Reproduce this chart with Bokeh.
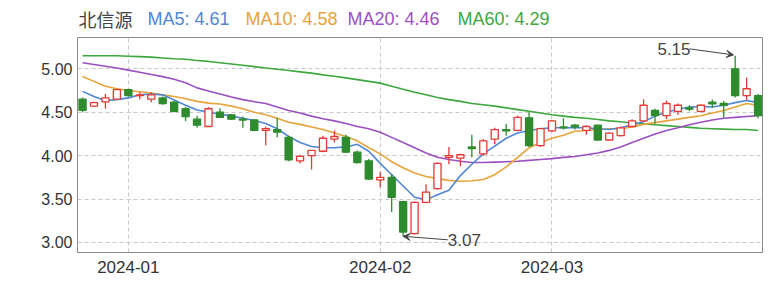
from bokeh.plotting import figure
from bokeh.layouts import column
from bokeh.models import Range1d, FixedTicker, Label, Arrow, VeeHead, ColumnDataSource, NumeralTickFormatter
from bokeh.core.properties import value
from bokeh.embed import file_html
from bokeh.resources import INLINE

stock_name = "北信源"
dates = ["2023-12-26", "2023-12-27", "2023-12-28", "2023-12-29",
         "2024-01-02", "2024-01-03", "2024-01-04", "2024-01-05", "2024-01-08", "2024-01-09",
         "2024-01-10", "2024-01-11", "2024-01-12", "2024-01-15", "2024-01-16", "2024-01-17",
         "2024-01-18", "2024-01-19", "2024-01-22", "2024-01-23", "2024-01-24", "2024-01-25",
         "2024-01-26", "2024-01-29", "2024-01-30", "2024-01-31",
         "2024-02-01", "2024-02-02", "2024-02-05", "2024-02-06", "2024-02-07", "2024-02-08",
         "2024-02-19", "2024-02-20", "2024-02-21", "2024-02-22", "2024-02-23", "2024-02-26",
         "2024-02-27", "2024-02-28", "2024-02-29",
         "2024-03-01", "2024-03-04", "2024-03-05", "2024-03-06", "2024-03-07", "2024-03-08",
         "2024-03-11", "2024-03-12", "2024-03-13", "2024-03-14", "2024-03-15", "2024-03-18",
         "2024-03-19", "2024-03-20", "2024-03-21", "2024-03-22", "2024-03-25", "2024-03-26",
         "2024-03-27"]

opens = [4.65, 4.57, 4.62, 4.65, 4.76, 4.69, 4.65, 4.665, 4.615, 4.54,
         4.42, 4.335, 4.50, 4.47, 4.42, 4.41, 4.29, 4.30, 4.21, 3.94,
         4.00, 4.05, 4.19, 4.21, 4.04, 3.94, 3.72, 3.75, 3.47, 3.10,
         3.46, 3.62, 3.98, 3.97, 4.10, 4.02, 4.19, 4.30, 4.29, 4.435,
         4.115, 4.285, 4.33, 4.35, 4.29, 4.35, 4.18, 4.23, 4.335, 4.40,
         4.52, 4.46, 4.51, 4.55, 4.51, 4.615, 4.60, 5.00, 4.69, 4.69]
highs = [4.67, 4.62, 4.71, 4.77, 4.77, 4.73, 4.73, 4.68, 4.63, 4.56,
         4.46, 4.56, 4.545, 4.48, 4.45, 4.42, 4.335, 4.435, 4.23, 4.01,
         4.06, 4.23, 4.29, 4.24, 4.06, 3.96, 3.815, 3.79, 3.48, 3.47,
         3.67, 3.92, 4.10, 4.02, 4.24, 4.19, 4.32, 4.365, 4.46, 4.50,
         4.32, 4.41, 4.43, 4.365, 4.35, 4.355, 4.27, 4.335, 4.42, 4.65,
         4.54, 4.635, 4.60, 4.58, 4.59, 4.645, 4.63, 5.15, 4.90, 4.71]
lows = [4.50, 4.56, 4.54, 4.645, 4.68, 4.65, 4.615, 4.585, 4.50, 4.40,
        4.32, 4.33, 4.435, 4.41, 4.32, 4.28, 4.12, 4.21, 3.935, 3.91,
        3.84, 4.04, 4.15, 4.03, 3.91, 3.72, 3.635, 3.35, 3.07, 3.09,
        3.45, 3.61, 3.90, 3.88, 3.98, 4.00, 4.13, 4.23, 4.28, 4.10,
        4.10, 4.275, 4.30, 4.30, 4.24, 4.175, 4.17, 4.22, 4.33, 4.39,
        4.37, 4.42, 4.47, 4.51, 4.50, 4.55, 4.44, 4.67, 4.64, 4.43]
closes = [4.52, 4.61, 4.665, 4.76, 4.69, 4.70, 4.70, 4.60, 4.51, 4.45,
          4.35, 4.54, 4.44, 4.42, 4.41, 4.29, 4.31, 4.27, 3.95, 3.99,
          4.06, 4.20, 4.22, 4.04, 3.92, 3.73, 3.75, 3.52, 3.12, 3.46,
          3.58, 3.91, 4.00, 4.01, 4.08, 4.17, 4.30, 4.285, 4.44, 4.115,
          4.31, 4.40, 4.32, 4.33, 4.335, 4.18, 4.26, 4.32, 4.40, 4.58,
          4.46, 4.60, 4.58, 4.535, 4.58, 4.595, 4.58, 4.69, 4.77, 4.46]

ma5 = [4.74, 4.68, 4.635, 4.645, 4.665, 4.70, 4.71, 4.70, 4.64, 4.58,
       4.525, 4.50, 4.48, 4.455, 4.43, 4.405, 4.37, 4.31, 4.22, 4.15,
       4.105, 4.09, 4.09, 4.10, 4.13, 4.05, 3.91, 3.78, 3.65, 3.52,
       3.49, 3.55, 3.60, 3.77, 3.90, 4.02, 4.11, 4.20, 4.26, 4.29,
       4.31, 4.32, 4.32, 4.32, 4.32, 4.31, 4.30, 4.32, 4.355, 4.39,
       4.455, 4.50, 4.535, 4.56, 4.565, 4.56, 4.58, 4.61, 4.635, 4.61]
ma10 = [4.91, 4.855, 4.80, 4.77, 4.75, 4.735, 4.72, 4.70, 4.68, 4.655,
        4.625, 4.605, 4.595, 4.57, 4.54, 4.50, 4.47, 4.43, 4.385, 4.36,
        4.33, 4.30, 4.26, 4.22, 4.17, 4.09, 4.02, 3.93, 3.86, 3.80,
        3.76, 3.735, 3.715, 3.705, 3.71, 3.725, 3.78, 3.87, 3.98, 4.09,
        4.15, 4.20, 4.235, 4.28, 4.29, 4.30, 4.31, 4.31, 4.33, 4.36,
        4.38, 4.40, 4.42, 4.44, 4.46, 4.49, 4.52, 4.56, 4.60, 4.58]
ma20 = [5.07, 5.05, 5.03, 5.01, 4.985, 4.96, 4.935, 4.91, 4.88, 4.84,
        4.78, 4.745, 4.71, 4.675, 4.645, 4.62, 4.60, 4.56, 4.52, 4.49,
        4.455, 4.425, 4.40, 4.37, 4.335, 4.31, 4.27, 4.21, 4.15, 4.09,
        4.03, 3.98, 3.955, 3.935, 3.92, 3.92, 3.925, 3.93, 3.935, 3.945,
        3.955, 3.965, 3.98, 3.99, 4.01, 4.03, 4.06, 4.10, 4.15, 4.20,
        4.25, 4.29, 4.32, 4.355, 4.385, 4.41, 4.43, 4.44, 4.45, 4.46]
ma60 = [5.15, 5.15, 5.15, 5.15, 5.145, 5.14, 5.135, 5.125, 5.115, 5.11,
        5.095, 5.085, 5.07, 5.055, 5.04, 5.025, 5.01, 4.995, 4.98, 4.965,
        4.95, 4.93, 4.915, 4.895, 4.875, 4.855, 4.835, 4.80, 4.765, 4.73,
        4.70, 4.67, 4.645, 4.625, 4.60, 4.585, 4.57, 4.55, 4.53, 4.51,
        4.49, 4.47, 4.455, 4.44, 4.43, 4.415, 4.40, 4.39, 4.375, 4.365,
        4.355, 4.345, 4.335, 4.325, 4.315, 4.31, 4.305, 4.30, 4.30, 4.29]

y_ticks = [3.00, 3.50, 4.00, 4.50, 5.00]
month_labels = ["2024-01", "2024-02", "2024-03"]

UP = "#e53935"
DOWN = "#2e8b2e"
C_MA5 = "#4f86d6"
C_MA10 = "#e8a33a"
C_MA20 = "#9c4fc2"
C_MA60 = "#3da83d"

W = 768
HEAD_H = 36
H = 281 - HEAD_H
BL, BR, BT, BB = 77, 6, 1, 29
PX_PER_X = 11.45
PX_PER_Y = 86.8
X0 = -0.44
X1 = X0 + (W - BL - BR) / PX_PER_X
Y1 = 5.3606
Y0 = Y1 - (H - BT - BB) / PX_PER_Y

n = len(dates)
idx = list(range(n))
up = [c >= o for o, c in zip(opens, closes)]
src = ColumnDataSource(dict(
    x=idx, o=opens, h=highs, l=lows, c=closes,
    top=[max(o, c) for o, c in zip(opens, closes)],
    bot=[min(o, c) for o, c in zip(opens, closes)],
    line=[UP if u else DOWN for u in up],
    fill=["white" if u else DOWN for u in up],
))

# ---- header (name + MA legend); its frame is aligned with the chart frame ----
head = figure(width=W, height=HEAD_H, output_backend="svg", toolbar_location=None,
              x_range=Range1d(BL, W - BR), y_range=Range1d(HEAD_H, 0),
              x_axis_type=None, y_axis_type=None,
              min_border_left=BL, min_border_right=BR, min_border_top=0, min_border_bottom=0)
head.outline_line_color = None
head.background_fill_color = "white"
head.border_fill_color = "white"
head.text(x=[78], y=[18], text=[stock_name], text_baseline="middle",
          text_font=value("Noto Sans CJK SC"), text_font_size="18px", text_color="#444444")
legend_items = [("MA5", ma5, C_MA5, 147), ("MA10", ma10, C_MA10, 245),
                ("MA20", ma20, C_MA20, 347), ("MA60", ma60, C_MA60, 457)]
head.text(x=[it[3] for it in legend_items], y=[18] * len(legend_items),
          text=[f"{it[0]}: {it[1][-1]:.2f}" for it in legend_items],
          text_color=[it[2] for it in legend_items], text_baseline="middle",
          text_font=value("Liberation Sans"), text_font_size="18px")

# ---- main chart ----
p = figure(width=W, height=H, output_backend="svg", toolbar_location=None,
           x_range=Range1d(X0, X1), y_range=Range1d(Y0, Y1),
           min_border_left=BL, min_border_right=BR, min_border_top=BT, min_border_bottom=BB)
p.background_fill_color = "white"
p.border_fill_color = "white"
p.outline_line_color = "#8a8a8a"
p.outline_line_width = 1

p.yaxis.ticker = FixedTicker(ticks=y_ticks)
p.yaxis.formatter = NumeralTickFormatter(format="0.00")
month_pos = []
for m in month_labels:
    month_pos.append(next(i for i, d in enumerate(dates) if d.startswith(m)))
p.xaxis.ticker = FixedTicker(ticks=month_pos)
p.xaxis.major_label_overrides = {i: lab for i, lab in zip(month_pos, month_labels)}
for ax in (p.xaxis[0], p.yaxis[0]):
    ax.axis_line_color = None
    ax.major_tick_line_color = None
    ax.minor_tick_line_color = None
    ax.major_tick_out = 0
    ax.major_tick_in = 0
    ax.major_label_text_font = "Liberation Sans"
    ax.major_label_text_color = "#333333"
p.yaxis.major_label_text_font_size = "16px"
p.xaxis.major_label_text_font_size = "17px"
p.yaxis.major_label_standoff = 5
p.xaxis.major_label_standoff = 8

p.xgrid.grid_line_color = "#c8c8c8"
p.xgrid.grid_line_dash = "4 3"
p.ygrid.grid_line_color = "#c8c8c8"
p.ygrid.grid_line_dash = "4 3"

p.line(idx, ma60, line_color=C_MA60, line_width=1.6)
p.line(idx, ma20, line_color=C_MA20, line_width=1.6)
p.line(idx, ma10, line_color=C_MA10, line_width=1.6)
p.line(idx, ma5, line_color=C_MA5, line_width=1.6)

p.segment(x0="x", y0="h", x1="x", y1="l", source=src, line_color="line", line_width=1.3)
p.vbar(x="x", top="top", bottom="bot", width=0.62, source=src,
       fill_color="fill", line_color="line", line_width=1.3)

ann_color = "#444444"
imax = max(idx, key=lambda i: highs[i])
imin = min(idx, key=lambda i: lows[i])
hx0, hy0 = imax - 4.0, highs[imax] + 0.08
p.add_layout(Arrow(x_start=hx0, y_start=hy0, x_end=imax - 0.15, y_end=highs[imax] + 0.01,
                   line_color=ann_color, line_width=1,
                   end=VeeHead(size=7, line_color=ann_color, fill_color=ann_color, line_width=1)))
p.add_layout(Label(x=hx0 + 0.1, y=hy0, text=f"{highs[imax]:.2f}", text_align="right",
                   text_baseline="middle", text_font="Liberation Sans",
                   text_font_size="17px", text_color=ann_color))
lx0, ly0 = imin + 3.9, lows[imin] - 0.04
p.add_layout(Arrow(x_start=lx0, y_start=ly0, x_end=imin, y_end=lows[imin],
                   line_color=ann_color, line_width=1,
                   end=VeeHead(size=7, line_color=ann_color, fill_color=ann_color, line_width=1)))
p.add_layout(Label(x=lx0, y=ly0, text=f"{lows[imin]:.2f}", text_align="left",
                   text_baseline="middle", text_font="Liberation Sans",
                   text_font_size="17px", text_color=ann_color))

layout = column(head, p, spacing=0)
open("out.html", "w").write(file_html(layout, INLINE))
